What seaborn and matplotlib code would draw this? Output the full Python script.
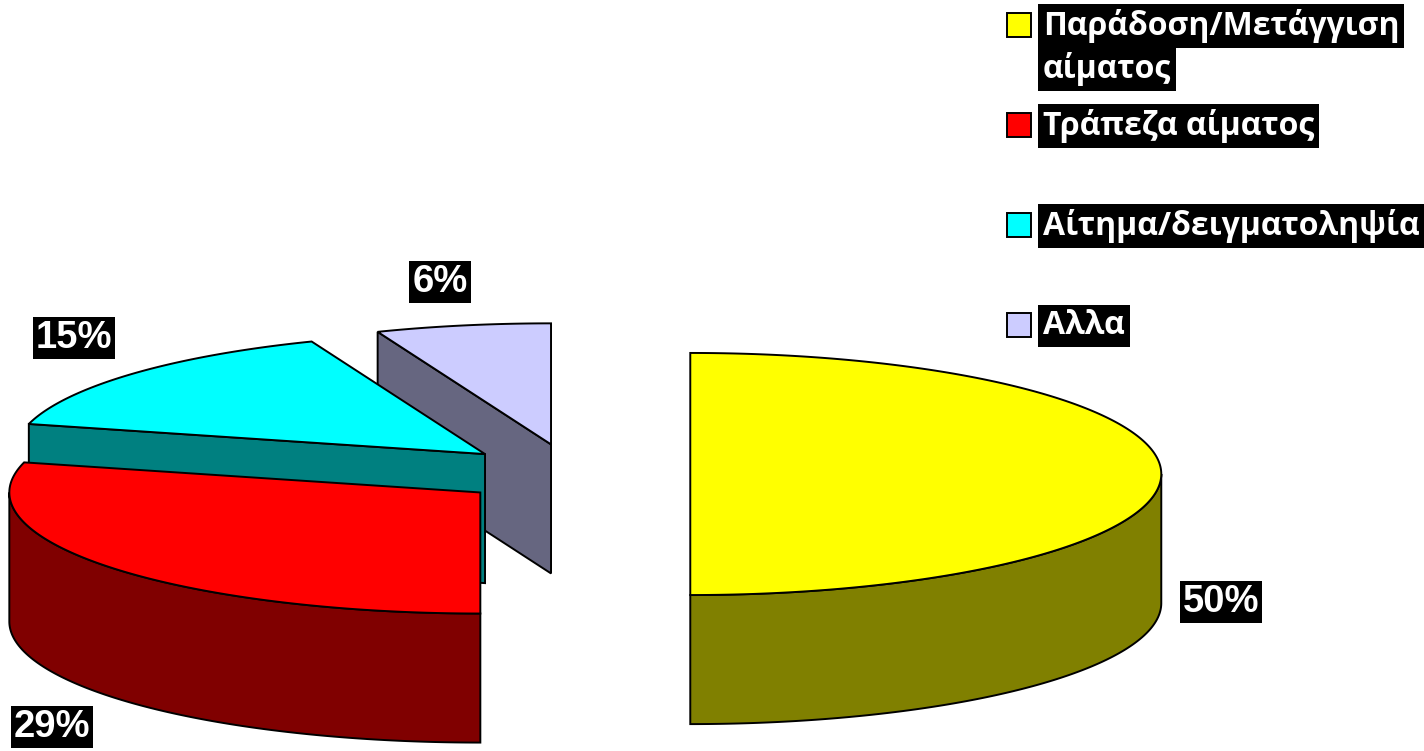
import numpy as np
import matplotlib
matplotlib.use("Agg")
import matplotlib.pyplot as plt
import seaborn as sns
from matplotlib.patches import Polygon, Rectangle

# ---- data ----
categories = ["Παράδοση/Μετάγγιση\nαίματος", "Τράπεζα αίματος", "Αίτημα/δειγματοληψία", "Αλλα"]
values = [50, 29, 15, 6]
pct_labels = ["50%", "29%", "15%", "6%"]
top_colors = ["#FFFF00", "#FF0000", "#00FFFF", "#CCCCFF"]
side_colors = ["#808000", "#800000", "#008080", "#666680"]

sns.set_theme(style="white")
plt.rcParams['font.family'] = ['DejaVu Sans']

W, H = 1424, 751
fig = plt.figure(figsize=(W / 100, H / 100), dpi=100)
ax = fig.add_axes([0, 0, 1, 1])

# pie geometry (units of radius)
PX = 471.0          # pixels per radius unit
CXP, CYP = 573, 474  # pie centre in pixels
K = 0.257            # vertical squash of the tilted pie
DEPTH = 0.274
EXPLODE = 0.249
ax.set_xlim(-CXP / PX, (W - CXP) / PX)
ax.set_ylim(-(H - CYP) / PX, CYP / PX)
ax.set_aspect('equal')
ax.axis('off')

LW = 1.4


def pt(cx, cy, th, z=0.0):
    r = np.radians(th)
    return np.column_stack([cx + np.cos(r), cy + K * np.sin(r) - z])


fracs = np.array(values, dtype=float) / np.sum(values)
start = 90.0
n = len(values)
for i, f in enumerate(fracs):
    hi = start
    lo = start - 360.0 * f
    start = lo
    mid = np.radians((lo + hi) / 2)
    cx = EXPLODE * np.cos(mid)
    cy = K * EXPLODE * np.sin(mid)
    base = (n - i) * 10
    # radial faces
    for th, nrm in ((hi, hi + 90), (lo, lo - 90)):
        if np.sin(np.radians(nrm)) < -1e-6:
            e = pt(cx, cy, np.array([th]))[0]
            poly = [(cx, cy), tuple(e), (e[0], e[1] - DEPTH), (cx, cy - DEPTH)]
            ax.add_patch(Polygon(poly, closed=True, fc=side_colors[i], ec='black', lw=LW, zorder=base + 1))
    # outer curved side (front half only)
    for k in (-1, 0, 1):
        a = max(lo, -180 + 360 * k)
        b = min(hi, 0 + 360 * k)
        if b > a + 1e-6:
            ths = np.linspace(a, b, 200)
            topa = pt(cx, cy, ths)
            bota = pt(cx, cy, ths[::-1], DEPTH)
            ax.add_patch(Polygon(np.vstack([topa, bota]), closed=True, fc=side_colors[i], ec='black',
                                 lw=LW, zorder=base + 2))
    # top face
    ths = np.linspace(lo, hi, 300)
    arc = pt(cx, cy, ths)
    poly = np.vstack([[cx, cy], arc])
    ax.add_patch(Polygon(poly, closed=True, fc=top_colors[i], ec='black', lw=LW, zorder=base + 3))

# ---- percentage labels ----
label_pos = [(1221, 602), (52, 727), (74, 338), (440, 282)]
for lab, (x, y) in zip(pct_labels, label_pos):
    fig.text(x / W, 1 - y / H, lab, ha='center', va='center', color='white', fontsize=27.5,
             fontweight='bold', family=['Liberation Sans', 'DejaVu Sans'],
             bbox=dict(boxstyle='square,pad=0.08', fc='black', ec='none'), zorder=100)

# ---- legend ----
row_y = [25, 125, 225, 325]
LINE_PITCH = 43
for i, (cat, y) in enumerate(zip(categories, row_y)):
    fig.add_artist(Rectangle(((1007) / W, 1 - (y + 12) / H), 24 / W, 24 / H,
                             transform=fig.transFigure, fc=top_colors[i], ec='black', lw=1.4))
    for j, line in enumerate(cat.split("\n")):
        fig.text(1043 / W, 1 - (y + 1 + j * LINE_PITCH) / H, line, ha='left', va='center', color='white',
                 fontsize=23, fontweight='bold', family=['Open Sans', 'DejaVu Sans'],
                 bbox=dict(boxstyle='square,pad=0.15', fc='black', ec='none'), zorder=100)

fig.savefig("out.png", dpi=100, facecolor='white')
